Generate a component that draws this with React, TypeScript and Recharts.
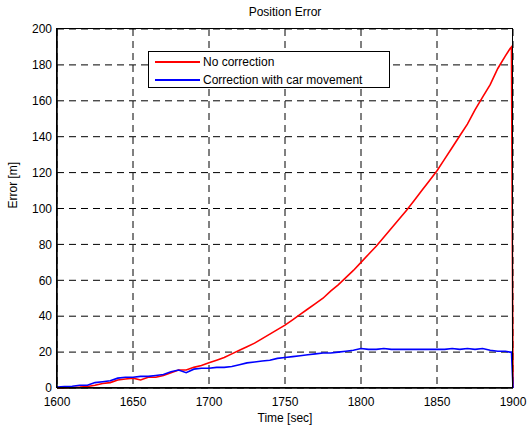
import React from 'react';
import { LineChart, Line, XAxis, YAxis, CartesianGrid } from 'recharts';

const times = [
  1600, 1605, 1610, 1615, 1620, 1625, 1630, 1635, 1640, 1645, 1650, 1655, 1660, 1665, 1670, 1675,
  1680, 1685, 1690, 1695, 1700, 1705, 1710, 1715, 1720, 1725, 1730, 1735, 1740, 1745, 1750, 1755,
  1760, 1765, 1770, 1775, 1780, 1785, 1790, 1795, 1800, 1805, 1810, 1815, 1820, 1825, 1830, 1835,
  1840, 1845, 1850, 1855, 1860, 1865, 1870, 1875, 1880, 1885, 1890, 1895, 1898, 1899, 1900,
];

const noCorrection = [
  0, 0, 0.3, 0.5, 0.8, 1.5, 2.5, 3, 4.5, 5, 5.5, 4.5, 6, 6, 7, 8.5,
  10, 10, 11.5, 12.5, 14, 15.5, 17, 19, 21, 23, 25, 27.5, 30, 32.5, 35, 38,
  41, 44, 47, 50, 54, 57.5, 61.5, 65.5, 70, 74.5, 79, 84, 89, 94, 99, 104.5,
  110, 115.5, 121, 127.5, 134, 140.5, 147, 155, 162, 169, 178, 185, 189, 190, 0,
];

const withCarMovement = [
  0.5, 0.8, 1, 1.5, 1.5, 3, 3.5, 4, 5.5, 6, 6, 6.5, 6.5, 7, 7.5, 9,
  10, 8.5, 10.5, 11, 11, 11.5, 11.5, 12, 13, 14, 14.5, 15, 15.5, 16.5, 17, 17.5,
  18, 18.5, 19, 19.5, 19.5, 20, 20.5, 21, 22, 21.5, 21.5, 22, 21.5, 21.5, 21.5, 21.5,
  21.5, 21.5, 21.5, 21.5, 22, 21.5, 22, 21.5, 22, 21, 20.5, 20.5, 20, 20, 0,
];

const xTicks = [1600, 1650, 1700, 1750, 1800, 1850, 1900];
const yTicks = [0, 20, 40, 60, 80, 100, 120, 140, 160, 180, 200];

const data = times.map((t, i) => ({
  time: t,
  red: noCorrection[i],
  blue: withCarMovement[i],
}));

const font = 'Arial, "Liberation Sans", Helvetica, sans-serif';

export default function App() {
  return (
    <div style={{ position: 'absolute', left: 0, top: 0, width: 529, height: 431, background: '#fff' }}>
      <div
        style={{
          position: 'absolute',
          top: 5,
          left: 57,
          width: 456,
          textAlign: 'center',
          fontFamily: font,
          fontSize: 12,
        }}
      >
        Position Error
      </div>
      <LineChart
        width={529}
        height={431}
        data={data}
        margin={{ top: 29, right: 16, left: 0, bottom: 0 }}
        style={{ fontFamily: font }}
      >
        <CartesianGrid stroke="#000" strokeDasharray="7 5" strokeWidth={1} />
        <XAxis
          dataKey="time"
          type="number"
          domain={[1600, 1900]}
          ticks={xTicks}
          tickLine={false}
          tickSize={0}
          tickMargin={9}
          axisLine={{ stroke: '#000', strokeWidth: 1.5 }}
          tick={{ fill: '#000', fontSize: 12 }}
          height={43}
          label={{ value: 'Time [sec]', position: 'insideBottom', offset: 9, fill: '#000', fontSize: 12 }}
        />
        <YAxis
          type="number"
          domain={[0, 200]}
          ticks={yTicks}
          tickLine={false}
          tickSize={0}
          tickMargin={5}
          axisLine={{ stroke: '#000', strokeWidth: 1.5 }}
          tick={{ fill: '#000', fontSize: 12 }}
          width={57}
          label={{ value: 'Error [m]', angle: -90, position: 'insideLeft', offset: 13, fill: '#000', fontSize: 12 }}
        />
        <Line
          type="linear"
          dataKey="red"
          stroke="#ff0000"
          strokeWidth={1.6}
          dot={false}
          isAnimationActive={false}
        />
        <Line
          type="linear"
          dataKey="blue"
          stroke="#0000ff"
          strokeWidth={1.6}
          dot={false}
          isAnimationActive={false}
        />
      </LineChart>
      {/* box around the plot, like matlab's axes */}
      <div
        style={{
          position: 'absolute',
          left: 56,
          top: 28,
          width: 457,
          height: 360,
          border: '1.5px solid #000',
          boxSizing: 'border-box',
          pointerEvents: 'none',
        }}
      />
      <div
        style={{
          position: 'absolute',
          left: 148,
          top: 51,
          width: 242,
          height: 37,
          boxSizing: 'border-box',
          border: '1.5px solid #000',
          background: '#fff',
          padding: '1px 0 0 6px',
          fontFamily: font,
          fontSize: 12,
          color: '#000',
          lineHeight: '18px',
        }}
      >
        <div style={{ display: 'flex', alignItems: 'center', height: 18 }}>
          <span style={{ display: 'inline-block', width: 45, height: 2, background: '#ff0000', marginRight: 3 }} />
          No correction
        </div>
        <div style={{ display: 'flex', alignItems: 'center', height: 18 }}>
          <span style={{ display: 'inline-block', width: 45, height: 2, background: '#0000ff', marginRight: 3 }} />
          Correction with car movement
        </div>
      </div>
    </div>
  );
}
